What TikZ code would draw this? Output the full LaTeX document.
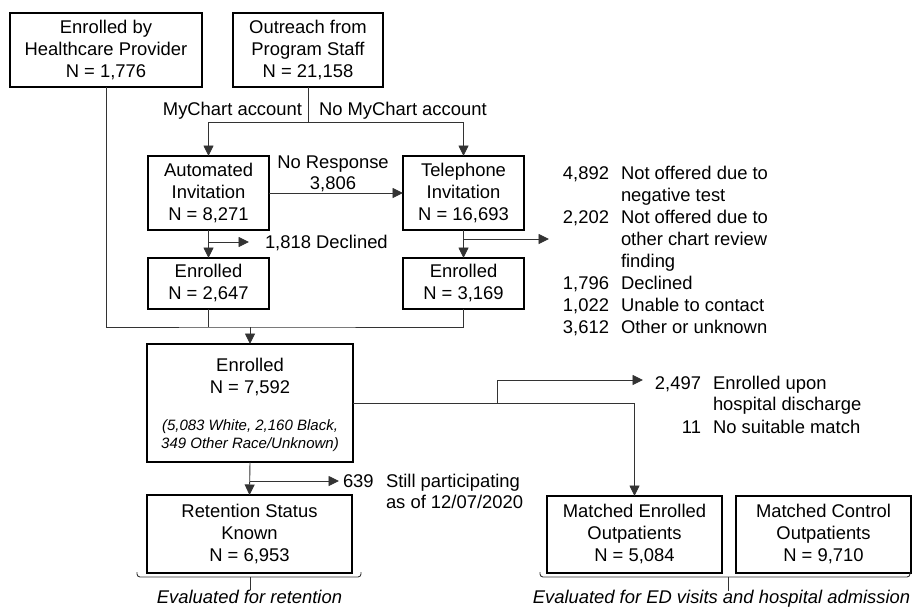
\documentclass[tikz,border=0pt]{standalone}
\usepackage{fontspec}
\setmainfont{Liberation Sans}
\usetikzlibrary{arrows.meta}
\begin{document}
\begin{tikzpicture}[x=1pt,y=-1pt,
  every node/.style={inner sep=0pt,outer sep=0pt},
  txt/.style={font=\fontsize{18.4}{22}\selectfont},
  box/.style={draw=black,line width=1.3pt,align=center,txt},
  itx/.style={font=\fontsize{15}{18}\selectfont\itshape,align=center},
  bit/.style={font=\fontsize{18.4}{22}\selectfont\itshape},
  conn/.style={draw=black!80,line width=0.9pt},
  arr/.style={conn,-{Triangle[length=10.5pt,width=10pt]}},
  brace/.style={draw=black!80,line width=0.9pt,rounded corners=3pt}]
\useasboundingbox (0,0) rectangle (912,607);
% boxes
\node[box,minimum width=192pt,minimum height=74pt] (prov) at (106,50) {Enrolled by\\Healthcare Provider\\N = 1,776};
\node[box,minimum width=150pt,minimum height=74pt] (outr) at (308,50) {Outreach from\\Program Staff\\N = 21,158};
\node[box,minimum width=121pt,minimum height=74pt] (auto) at (208.5,193) {Automated\\Invitation\\N = 8,271};
\node[box,minimum width=121pt,minimum height=74pt] (tel) at (463.5,193) {Telephone\\Invitation\\N = 16,693};
\node[box,minimum width=121pt,minimum height=51pt] (autoenr) at (208.5,283.5) {Enrolled\\N = 2,647};
\node[box,minimum width=121pt,minimum height=51pt] (telenr) at (463.5,283.5) {Enrolled\\N = 3,169};
\node[box,minimum width=206pt,minimum height=118pt] (main) at (250,403) {};
\node[txt,align=center] (mainT) at (250,377.5) {Enrolled\\N = 7,592};
\node[itx] (mainI) at (250,435.5) {(5,083 White, 2,160 Black,\\349 Other Race/Unknown)};
\node[box,minimum width=205pt,minimum height=78pt] (ret) at (249.5,534) {Retention Status\\Known\\N = 6,953};
\node[box,minimum width=175pt,minimum height=77pt] (menr) at (634.5,534.5) {Matched Enrolled\\Outpatients\\N = 5,084};
\node[box,minimum width=175pt,minimum height=77pt] (mctl) at (823.5,534.5) {Matched Control\\Outpatients\\N = 9,710};
% split from outreach
\coordinate (split) at (308,122);
\draw[conn] (outr.south) -- (split);
\draw[arr] (split) -| (auto.north);
\draw[arr] (split) -| (tel.north);
\node[txt,anchor=base east] (lmy) at (302,116) {MyChart account};
\node[txt,anchor=base west] (lnomy) at (319,116) {No MyChart account};
% no response
\draw[arr] (auto.east) -- (tel.west);
\node[txt,anchor=base] (nr1) at (333,168) {No Response};
\node[txt,anchor=base] (nr2) at (333,189) {3,806};
% automated -> enrolled
\draw[arr] (auto.south) -- (autoenr.north);
\coordinate (adec) at (208.5,242);
\coordinate (adecE) at (249,242);
\draw[arr] (adec) -- (adecE);
\node[txt,anchor=base west] (decl) at (265,248) {1,818 Declined};
% telephone -> enrolled
\draw[arr] (tel.south) -- (telenr.north);
\coordinate (tdec) at (463.5,239);
\coordinate (tdecE) at (549,239);
\draw[arr] (tdec) -- (tdecE);
% list
\node[txt,anchor=base east] (n1) at (609,179) {4,892};
\node[txt,anchor=base west] (t1a) at (621,179) {Not offered due to};
\node[txt,anchor=base west] (t1b) at (621,201) {negative test};
\node[txt,anchor=base east] (n2) at (609,223) {2,202};
\node[txt,anchor=base west] (t2a) at (621,223) {Not offered due to};
\node[txt,anchor=base west] (t2b) at (621,245) {other chart review};
\node[txt,anchor=base west] (t2c) at (621,267) {finding};
\node[txt,anchor=base east] (n3) at (609,289) {1,796};
\node[txt,anchor=base west] (t3) at (621,289) {Declined};
\node[txt,anchor=base east] (n4) at (609,311) {1,022};
\node[txt,anchor=base west] (t4) at (621,311) {Unable to contact};
\node[txt,anchor=base east] (n5) at (609,333) {3,612};
\node[txt,anchor=base west] (t5) at (621,333) {Other or unknown};
% merge
\coordinate (mrg) at (250,327);
\draw[conn] (prov.south) |- (mrg) -| (telenr.south);
\draw[conn] (autoenr.south) -- (autoenr.south |- mrg);
\draw[arr] (mrg) -- (main.north);
% retention
\draw[arr] (main.south) -- (ret.north);
\coordinate (rsp) at (250,481);
\coordinate (rspE) at (339,481);
\draw[arr] (rsp) -- (rspE);
\node[txt,anchor=base west] (s1) at (343,487) {639};
\node[txt,anchor=base west] (s2) at (386,487) {Still participating};
\node[txt,anchor=base west] (s3) at (386,508) {as of 12/07/2020};
% matched
\draw[arr] (main.east) -| (menr.north);
\coordinate (hsp) at (497,403);
\coordinate (hspE) at (643,380);
\draw[arr] (hsp) |- (hspE);
\node[txt,anchor=base east] (h1) at (701,389) {2,497};
\node[txt,anchor=base west] (h2) at (713,389) {Enrolled upon};
\node[txt,anchor=base west] (h3) at (713,410) {hospital discharge};
\node[txt,anchor=base east] (h4) at (701,433) {11};
\node[txt,anchor=base west] (h5) at (713,433) {No suitable match};
% braces
\draw[brace] (137,572) -- (137,577) -- (361,577) -- (361,572);
\draw[conn] (250,577) -- (250,590);
\node[bit,anchor=base] (ev1) at (249.5,603) {Evaluated for retention};
\draw[brace] (540,572) -- (540,577) -- (910,577) -- (910,572);
\draw[conn] (728,577) -- (728,591);
\node[bit,anchor=base] (ev2) at (721.5,603) {Evaluated for ED visits and hospital admission};
\end{tikzpicture}
\end{document}
